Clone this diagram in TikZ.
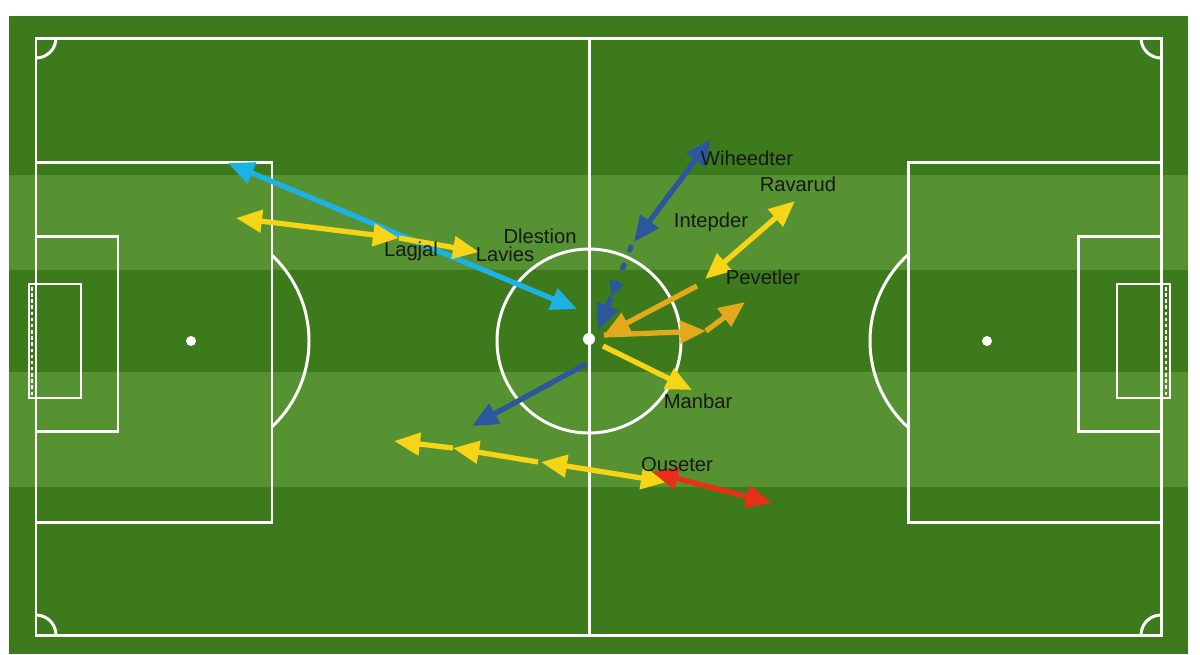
\documentclass[tikz,border=0pt]{standalone}
\usepackage{fontspec}
\setmainfont{Liberation Sans}
\usepackage{tikz}
\usetikzlibrary{arrows.meta}

\definecolor{grassdark}{RGB}{60,122,28}
\definecolor{grasslight}{RGB}{86,146,50}
\definecolor{passcyan}{RGB}{28,178,230}
\definecolor{passyellow}{RGB}{246,212,22}
\definecolor{passgold}{RGB}{226,170,26}
\definecolor{passblue}{RGB}{44,86,158}
\definecolor{passred}{RGB}{232,48,24}
\definecolor{labelink}{RGB}{24,24,24}

\tikzset{
  pitchline/.style={draw=white, line width=1.7pt},
  pass/.style={line width=3pt, -{Triangle[length=0.52cm,width=0.44cm]}},
  both/.style={line width=3pt, {Triangle[length=0.52cm,width=0.44cm]}-{Triangle[length=0.52cm,width=0.44cm]}},
  tag/.style={text=labelink, font=\fontsize{11.5}{13}\selectfont, inner sep=1pt}
}

\begin{document}
\begin{tikzpicture}[x=0.02cm, y=-0.02cm]
    \useasboundingbox (0,0) rectangle (1200,654);

    % First, the grass and its stripes
    \fill[grassdark] (9,16) rectangle (1188,654);
    \fill[grasslight] (9,175) rectangle (1188,270);
    \fill[grasslight] (9,372) rectangle (1188,487);

    % Now the markings of the pitch
    \draw[pitchline] (36,38) rectangle (1161,635);
    \draw[pitchline] (589,38) -- (589,635);
    \draw[pitchline] (589,341) circle[radius=92];
    \fill[white] (589,339) circle[radius=6];
    \draw[pitchline] (36,162) rectangle (272,522);
    \draw[pitchline] (36,236) rectangle (118,431);
    \draw[pitchline] (908,162) rectangle (1161,522);
    \draw[pitchline] (1078,236) rectangle (1161,431);
    \fill[white] (191,341) circle[radius=5];
    \fill[white] (987,341) circle[radius=5];
    \begin{scope}
      \clip (272,0) rectangle (400,654);
      \draw[pitchline] (191,341) circle[radius=118];
    \end{scope}
    \begin{scope}
      \clip (780,0) rectangle (908,654);
      \draw[pitchline] (987,341) circle[radius=117];
    \end{scope}
    \begin{scope}
      \clip (36,38) rectangle (1161,635);
      \foreach \cx/\cy in {36/38, 1161/38, 36/635, 1161/635}
        \draw[pitchline] (\cx,\cy) circle[radius=20];
    \end{scope}

    % the goals, with their nets
    \draw[white, line width=1.3pt] (29,284) rectangle (81,398);
    \draw[white, line width=1pt, dash pattern=on 2pt off 1.5pt] (32,287) -- (32,395);
    \draw[white, line width=1.3pt] (1117,284) rectangle (1170,398);
    \draw[white, line width=1pt, dash pattern=on 2pt off 1.5pt] (1166,287) -- (1166,395);

    % Locate the ends of the passes
    \coordinate (cyanA) at (228,163);
    \coordinate (cyanB) at (577,309);
    \coordinate (lagA) at (236,218);
    \coordinate (lagB) at (399,238);
    \coordinate (lagC) at (479,252);
    \coordinate (wihA) at (711,139);
    \coordinate (wihB) at (634,242);
    \coordinate (dotA) at (631,247);
    \coordinate (dotB) at (611,297);
    \coordinate (dotC) at (598,330);
    \coordinate (ravA) at (795,201);
    \coordinate (ravB) at (705,279);
    \coordinate (goldA) at (697,286);
    \coordinate (mid) at (604,335);
    \coordinate (goldB) at (706,331);
    \coordinate (goldC) at (745,302);
    \coordinate (manA) at (603,346);
    \coordinate (manB) at (692,390);
    \coordinate (lowA) at (586,364);
    \coordinate (lowB) at (472,426);
    \coordinate (ousA) at (538,462);
    \coordinate (ousM) at (453,448);
    \coordinate (ousB) at (394,441);
    \coordinate (ousC) at (541,462);
    \coordinate (ousD) at (667,482);
    \coordinate (redA) at (652,472);
    \coordinate (redB) at (772,503);

    % Now draw the passes:
    \draw[both, passcyan] (cyanA) -- (cyanB);
    \draw[both, passyellow] (lagA) -- (lagB);
    \draw[pass, passyellow] (lagB) -- (lagC);
    \draw[both, passblue] (wihA) -- (wihB);
    \draw[passblue, line width=3pt, dash pattern=on 2pt off 9pt, line cap=round,
          -{Triangle[length=0.32cm,width=0.28cm]}] (dotA) -- (dotB);
    \draw[pass, passblue] (dotB) -- (dotC);
    \draw[both, passyellow] (ravA) -- (ravB);
    \draw[pass, passgold] (goldA) -- (mid);
    \draw[pass, passgold] (mid) -- (goldB);
    \draw[pass, passgold] (goldB) -- (goldC);
    \draw[pass, passyellow] (manA) -- (manB);
    \draw[pass, passblue] (lowA) -- (lowB);
    \draw[pass, passyellow] (ousA) -- (ousM);
    \draw[pass, passyellow] (ousM) -- (ousB);
    \draw[both, passyellow] (ousC) -- (ousD);
    \draw[both, passred] (redA) -- (redB);

    % and the names
    \node[tag] (dlestion) at (540,236) {Dlestion};
    \node[tag] (lagjal) at (411,251) {Lagjal};
    \node[tag] (lavies) at (505,254) {Lavies};
    \node[tag] (wiheedter) at (747,158) {Wiheedter};
    \node[tag] (ravarud) at (798,184) {Ravarud};
    \node[tag] (intepder) at (711,222) {Intepder};
    \node[tag] (pevetler) at (763,277) {Pevetler};
    \node[tag] (manbar) at (698,401) {Manbar};
    \node[tag] (ouseter) at (677,465) {Ouseter};
\end{tikzpicture}
\end{document}
